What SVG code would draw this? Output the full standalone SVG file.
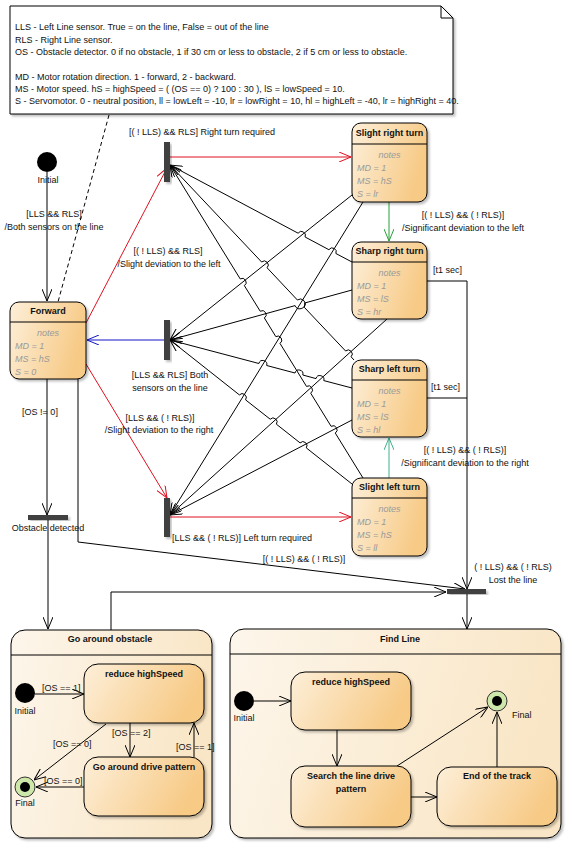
<svg xmlns="http://www.w3.org/2000/svg" width="572" height="849" viewBox="0 0 572 849">
  <style>
    text { font-family: "Liberation Sans", Arial, sans-serif; font-size: 9px; fill: #111; }
    .b { font-weight: bold; }
    .c { text-anchor: middle; }
    .n { font-style: italic; fill: #9a9a9a; }
    .st { fill: url(#gState); stroke: #000; stroke-width: 1; filter: url(#sh); }
    .cmp { fill: url(#gComp); stroke: #000; stroke-width: 1; filter: url(#sh); }
    .sep { stroke: #000; stroke-width: 1; }
    .bar { fill: #404040; filter: url(#sh); }
    .ln { fill: none; stroke: #000; stroke-width: 1; }
    .red { fill: none; stroke: #e01020; stroke-width: 1; }
    .blue { fill: none; stroke: #1515c8; stroke-width: 1; }
    .grn { fill: none; stroke: #28a038; stroke-width: 1; }
    .teal { fill: none; stroke: #40b088; stroke-width: 1; }
  </style>
  <defs>
    <linearGradient id="gState" x1="0" y1="0" x2="1" y2="0.3">
      <stop offset="0" stop-color="#fdefd9"/>
      <stop offset="1" stop-color="#f7ca86"/>
    </linearGradient>
    <linearGradient id="gComp" x1="0" y1="0" x2="1" y2="0.2">
      <stop offset="0" stop-color="#fdf6eb"/>
      <stop offset="1" stop-color="#f9e6c6"/>
    </linearGradient>
    <filter id="sh" x="-10%" y="-10%" width="130%" height="130%">
      <feDropShadow dx="2" dy="2" stdDeviation="1.2" flood-color="#000" flood-opacity="0.25"/>
    </filter>
    <marker id="ah" viewBox="0 0 12 10" refX="12" refY="5" markerWidth="12" markerHeight="10" markerUnits="userSpaceOnUse" orient="auto">
      <path d="M0,0 L12,5 L0,10" fill="none" stroke="#000" stroke-width="1"/>
    </marker>
    <marker id="ahR" viewBox="0 0 12 10" refX="12" refY="5" markerWidth="12" markerHeight="10" markerUnits="userSpaceOnUse" orient="auto">
      <path d="M0,0 L12,5 L0,10" fill="none" stroke="#e01020" stroke-width="1"/>
    </marker>
    <marker id="ahB" viewBox="0 0 12 10" refX="12" refY="5" markerWidth="12" markerHeight="10" markerUnits="userSpaceOnUse" orient="auto">
      <path d="M0,0 L12,5 L0,10" fill="none" stroke="#1515c8" stroke-width="1"/>
    </marker>
    <marker id="ahG" viewBox="0 0 12 10" refX="12" refY="5" markerWidth="12" markerHeight="10" markerUnits="userSpaceOnUse" orient="auto">
      <path d="M0,0 L12,5 L0,10" fill="none" stroke="#28a038" stroke-width="1"/>
    </marker>
    <marker id="ahT" viewBox="0 0 12 10" refX="12" refY="5" markerWidth="12" markerHeight="10" markerUnits="userSpaceOnUse" orient="auto">
      <path d="M0,0 L12,5 L0,10" fill="none" stroke="#40b088" stroke-width="1"/>
    </marker>
  </defs>

  <rect width="572" height="849" fill="#fff"/>

  <!-- legend note -->
  <g id="note">
    <path d="M10,6 L441,6 L453,18 L453,114 L10,114 Z" fill="#fff" stroke="#000" filter="url(#sh)"/>
    <path d="M441,6 L441,18 L453,18" fill="none" stroke="#000"/>
    <text x="15" y="30">LLS - Left Line sensor. True = on the line, False = out of the line</text>
    <text x="15" y="43">RLS - Right Line sensor.</text>
    <text x="15" y="55">OS - Obstacle detector. 0 if no obstacle, 1 if 30 cm or less to obstacle, 2 if 5 cm or less to obstacle.</text>
    <text x="15" y="80">MD - Motor rotation direction. 1 - forward, 2 - backward.</text>
    <text x="15" y="92">MS  - Motor speed. hS = highSpeed = ( (OS == 0) ? 100 : 30 ), lS = lowSpeed = 10.</text>
    <text x="15" y="104">S - Servomotor. 0 - neutral position, ll = lowLeft = -10, lr = lowRight = 10, hl = highLeft = -40, lr = highRight = 40.</text>
  </g>

  <!-- composite state containers (drawn beneath their contents) -->
  <g id="go-around-obstacle">
    <rect class="cmp" x="11" y="630" width="201" height="208" rx="14"/>
    <line class="sep" x1="11" y1="655" x2="212" y2="655"/>
    <text x="110" y="642" class="b c">Go around obstacle</text>
  </g>
  <g id="find-line">
    <rect class="cmp" x="230" y="629" width="331" height="209" rx="14"/>
    <line class="sep" x1="230" y1="654" x2="561" y2="654"/>
    <text x="400" y="642" class="b c">Find Line</text>
  </g>

  <!-- connectors -->
  <g id="connectors">
    <path class="ln" d="M109,115 L58,302" stroke-dasharray="4,3"/>
    <path class="ln" d="M47,172 L47,301" marker-end="url(#ah)"/>
    <path class="red" d="M86,323 L167,168" marker-end="url(#ahR)"/>
    <path class="blue" d="M164,340 L87,340" marker-end="url(#ahB)"/>
    <path class="red" d="M86,364 L167,498" marker-end="url(#ahR)"/>
    <path class="ln" d="M47,379 L47,515" marker-end="url(#ah)"/>
    <path class="ln" d="M48,520 L48,629" marker-end="url(#ah)"/>
    <path class="ln" d="M78,379 L78,542 L465,589" marker-end="url(#ah)"/>
    <path class="red" d="M170,157 L351,157" marker-end="url(#ahR)"/>
    <path class="red" d="M170,517 L351,517" marker-end="url(#ahR)"/>
    <path class="grn" d="M389,202 L389,241" marker-end="url(#ahG)"/>
    <path class="teal" d="M389,478 L389,438" marker-end="url(#ahT)"/>
    <path class="ln" d="M427,281 L467,281 L467,589" marker-end="url(#ah)"/>
    <path class="ln" d="M427,398 L467,398"/>
    <path class="ln" d="M467,594 L467,629" marker-end="url(#ah)"/>
    <path class="ln" d="M111,630 L111,592 L446,592" marker-end="url(#ah)"/>

    <!-- state-to-fork transitions, with line jumps at crossings -->
    <path class="ln" d="M352,195 L170,340" marker-end="url(#ah)"/>
    <path class="ln" d="M363,202 L170,515" marker-end="url(#ah)"/>
    <path class="ln" d="M387,319 L170,515" marker-end="url(#ah)"/>
    <path class="ln" d="M352,420 L170,515" marker-end="url(#ah)"/>
    <path class="ln" d="M352,290 L304.7,303 A5,5 0 0 1 295.1,305.6 L170,340" marker-end="url(#ah)"/>
    <path class="ln" d="M352,262 L335.9,253.5 A4,4 0 0 0 328.9,249.7 L305.1,237 A4,4 0 0 0 298.1,233.2 L170,165" marker-end="url(#ah)"/>
    <path class="ln" d="M354,360 L351.1,356.8 A4,4 0 0 0 345.6,351 L304.2,307.2 A5,5 0 0 0 297.4,300 L267.1,267.8 A4,4 0 0 0 261.6,262 L170,165" marker-end="url(#ah)"/>
    <path class="ln" d="M352,388 L323.8,380.6 A4,4 0 0 0 316,378.6 L302.8,375 A4,4 0 0 0 295,373 L266.7,365.5 A4,4 0 0 0 258.9,363.5 L170,340" marker-end="url(#ah)"/>
    <path class="ln" d="M363,478 L335.3,433.1 A4,4 0 0 0 331.1,426.3 L310.7,393.2 A4,4 0 0 0 306.5,386.4 L280,343.4 A4,4 0 0 0 275.8,336.6 L264.4,318 A4,4 0 0 0 260.2,311.2 L244.4,285.7 A4,4 0 0 0 240.2,278.9 L170,165" marker-end="url(#ah)"/>
    <path class="ln" d="M352,484 L306.3,447.9 A4,4 0 0 0 300.1,442.9 L276.4,424.2 A4,4 0 0 0 270.2,419.2 L245.6,399.9 A4,4 0 0 0 239.4,394.9 L170,340" marker-end="url(#ah)"/>

    <!-- inner transitions: Go around obstacle -->
    <path class="ln" d="M35,694 L84,694" marker-end="url(#ah)"/>
    <path class="ln" d="M130,723 L130,757" marker-end="url(#ah)"/>
    <path class="ln" d="M194,757 L194,723" marker-end="url(#ah)"/>
    <path class="ln" d="M106,724 L34,780" marker-end="url(#ah)"/>
    <path class="ln" d="M84,787 L36,787" marker-end="url(#ah)"/>
    <!-- inner transitions: Find Line -->
    <path class="ln" d="M254,701 L291,701" marker-end="url(#ah)"/>
    <path class="ln" d="M337,730 L337,766" marker-end="url(#ah)"/>
    <path class="ln" d="M411,797 L437,797" marker-end="url(#ah)"/>
    <path class="ln" d="M397,766 L488,707" marker-end="url(#ah)"/>
    <path class="ln" d="M497,767 L497,712" marker-end="url(#ah)"/>

    <!-- transition labels -->
    <text x="54" y="217" class="c">[LLS &amp;&amp; RLS]</text>
    <text x="54" y="230" class="c">/Both sensors on the line</text>
    <text x="129" y="135">[( ! LLS) &amp;&amp; RLS] Right turn required</text>
    <text x="168" y="254" class="c">[( ! LLS) &amp;&amp; RLS]</text>
    <text x="169" y="267" class="c">/Slight deviation to the left</text>
    <text x="170" y="378" class="c">[LLS &amp;&amp; RLS] Both</text>
    <text x="170" y="391" class="c">sensors on the line</text>
    <text x="160" y="421" class="c">[LLS &amp;&amp; ( ! RLS)]</text>
    <text x="159" y="433" class="c">/Slight deviation to the right</text>
    <text x="172" y="541">[LLS &amp;&amp; ( ! RLS)] Left turn required</text>
    <text x="40" y="415" class="c">[OS != 0]</text>
    <text x="304" y="562" class="c">[( ! LLS) &amp;&amp; ( ! RLS)]</text>
    <text x="463" y="218" class="c">[( ! LLS) &amp;&amp; ( ! RLS)]</text>
    <text x="463" y="231" class="c">/Significant deviation to the left</text>
    <text x="433" y="273">[t1 sec]</text>
    <text x="431" y="390">[t1 sec]</text>
    <text x="465" y="453" class="c">[( ! LLS) &amp;&amp; ( ! RLS)]</text>
    <text x="465" y="466" class="c">/Significant deviation to the right</text>
    <text x="42" y="691">[OS == 1]</text>
    <text x="112" y="736">[OS == 2]</text>
    <text x="176" y="750">[OS == 1]</text>
    <text x="53" y="747">[OS == 0]</text>
    <text x="44" y="784">[OS == 0]</text>
  </g>

  <!-- pseudo states -->
  <g id="initial">
    <circle cx="47" cy="162" r="10" fill="#000"/>
    <text x="48" y="183" class="c">Initial</text>
  </g>
  <g id="fork-right">
    <rect class="bar" x="164" y="142" width="6" height="40"/>
  </g>
  <g id="fork-both">
    <rect class="bar" x="164" y="320" width="6" height="40"/>
  </g>
  <g id="fork-left">
    <rect class="bar" x="164" y="498" width="6" height="39"/>
  </g>
  <g id="obstacle-detected">
    <rect class="bar" x="28" y="515" width="40" height="5"/>
    <text x="48" y="531" class="c">Obstacle detected</text>
  </g>
  <g id="lost-line">
    <rect class="bar" x="447" y="589" width="39" height="5"/>
    <text x="513" y="570" class="c">( ! LLS) &amp;&amp; ( ! RLS)</text>
    <text x="513" y="583" class="c">Lost the line</text>
  </g>

  <!-- simple states -->
  <g id="forward">
    <rect class="st" x="10" y="302" width="76" height="77" rx="9"/>
    <line class="sep" x1="10" y1="322" x2="86" y2="322"/>
    <text x="48" y="314" class="b c">Forward</text>
    <text x="48" y="336" class="n c">notes</text>
    <text x="15" y="349" class="n">MD = 1</text>
    <text x="15" y="362" class="n">MS = hS</text>
    <text x="15" y="375" class="n">S = 0</text>
  </g>
  <g id="slight-right">
    <rect class="st" x="352" y="123" width="75" height="79" rx="9"/>
    <line class="sep" x1="352" y1="144" x2="427" y2="144"/>
    <text x="389.5" y="136" class="b c">Slight right turn</text>
    <text x="389.5" y="158" class="n c">notes</text>
    <text x="357" y="171" class="n">MD = 1</text>
    <text x="357" y="184" class="n">MS = hS</text>
    <text x="357" y="197" class="n">S = lr</text>
  </g>
  <g id="sharp-right">
    <rect class="st" x="352" y="242" width="75" height="77" rx="9"/>
    <line class="sep" x1="352" y1="262" x2="427" y2="262"/>
    <text x="389.5" y="254" class="b c">Sharp right turn</text>
    <text x="389.5" y="276" class="n c">notes</text>
    <text x="357" y="289" class="n">MD = 1</text>
    <text x="357" y="302" class="n">MS = lS</text>
    <text x="357" y="315" class="n">S = hr</text>
  </g>
  <g id="sharp-left">
    <rect class="st" x="352" y="360" width="75" height="77" rx="9"/>
    <line class="sep" x1="352" y1="380" x2="427" y2="380"/>
    <text x="389.5" y="372" class="b c">Sharp left turn</text>
    <text x="389.5" y="394" class="n c">notes</text>
    <text x="357" y="407" class="n">MD = 1</text>
    <text x="357" y="420" class="n">MS = lS</text>
    <text x="357" y="433" class="n">S = hl</text>
  </g>
  <g id="slight-left">
    <rect class="st" x="352" y="478" width="75" height="78" rx="9"/>
    <line class="sep" x1="352" y1="498" x2="427" y2="498"/>
    <text x="389.5" y="490" class="b c">Slight left turn</text>
    <text x="389.5" y="512" class="n c">notes</text>
    <text x="357" y="525" class="n">MD = 1</text>
    <text x="357" y="538" class="n">MS = hS</text>
    <text x="357" y="551" class="n">S = ll</text>
  </g>

  <!-- contents of Go around obstacle -->
  <g id="goa-initial">
    <circle cx="25" cy="693" r="10" fill="#000"/>
    <text x="25" y="714" class="c">Initial</text>
  </g>
  <g id="goa-reduce">
    <rect class="st" x="84" y="664" width="120" height="59" rx="14"/>
    <text x="144" y="677" class="b c">reduce highSpeed</text>
  </g>
  <g id="goa-drive">
    <rect class="st" x="84" y="757" width="120" height="59" rx="14"/>
    <text x="144" y="770" class="b c">Go around drive pattern</text>
  </g>
  <g id="goa-final">
    <circle cx="25" cy="787" r="10" fill="#cde8a8" stroke="#333"/>
    <circle cx="25" cy="787" r="5" fill="#000"/>
    <text x="25" y="806" class="c">Final</text>
  </g>

  <!-- contents of Find Line -->
  <g id="fl-initial">
    <circle cx="244" cy="701" r="10" fill="#000"/>
    <text x="244" y="721" class="c">Initial</text>
  </g>
  <g id="fl-reduce">
    <rect class="st" x="291" y="672" width="120" height="58" rx="14"/>
    <text x="351" y="685" class="b c">reduce highSpeed</text>
  </g>
  <g id="fl-search">
    <rect class="st" x="291" y="766" width="120" height="61" rx="14"/>
    <text x="351" y="779" class="b c">Search the line drive</text>
    <text x="351" y="792" class="b c">pattern</text>
  </g>
  <g id="fl-end">
    <rect class="st" x="437" y="767" width="120" height="59" rx="14"/>
    <text x="497" y="779" class="b c">End of the track</text>
  </g>
  <g id="fl-final">
    <circle cx="497" cy="701" r="10" fill="#cde8a8" stroke="#333"/>
    <circle cx="497" cy="701" r="5" fill="#000"/>
    <text x="512" y="718">Final</text>
  </g>
</svg>
